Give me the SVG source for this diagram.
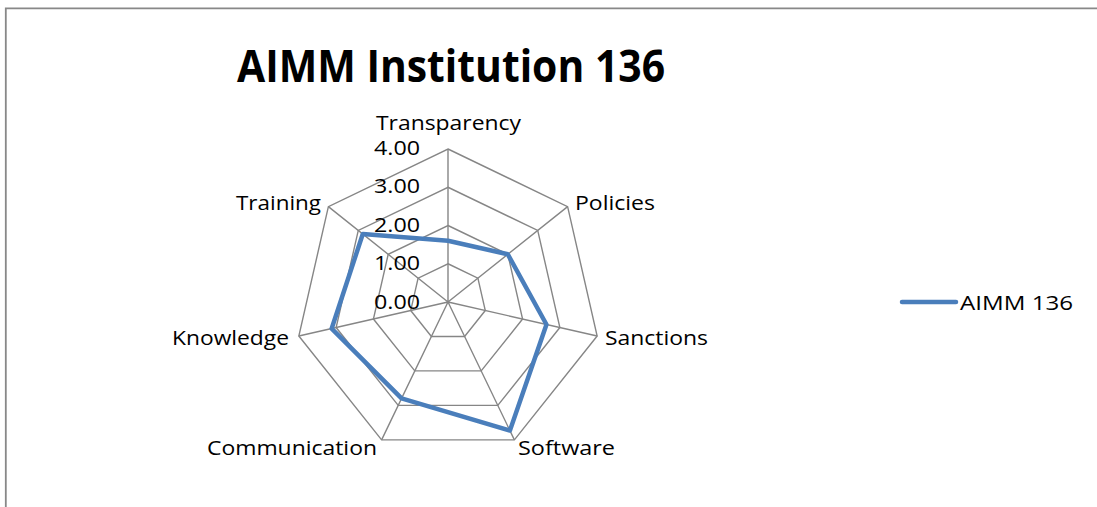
<svg xmlns="http://www.w3.org/2000/svg" width="1097" height="507" viewBox="0 0 1097 507">
<style>
.t{font-family:"Open Sans","Liberation Sans",Arial,sans-serif;font-size:20px;fill:#000}
.grid{fill:none;stroke:#868686;stroke-width:1.4}
.series{fill:none;stroke:#4a7ebb;stroke-width:4.5;stroke-linejoin:round;stroke-linecap:round}
</style>
<rect width="1097" height="507" fill="#fff"/>
<path d="M5.8,507 V8.3 H1097" fill="none" stroke="#888" stroke-width="1.8"/>
<g id="title"><text x="451" y="82" text-anchor="middle" font-family="Open Sans, Liberation Sans, Arial, sans-serif" font-weight="bold" font-size="45" textLength="428" lengthAdjust="spacingAndGlyphs">AIMM Institution 136</text></g>
<g id="connectors">
<g class="grid">
<polygon points="448,149 567.62,206.61 597.16,336.05 514.38,439.85 381.62,439.85 298.84,336.05 328.38,206.61"/>
<polygon points="448,187.25 537.72,230.45 559.87,327.53 497.79,405.39 398.21,405.39 336.13,327.53 358.28,230.45"/>
<polygon points="448,225.5 507.81,254.3 522.58,319.02 481.19,370.92 414.81,370.92 373.42,319.02 388.19,254.3"/>
<polygon points="448,263.75 477.9,278.15 485.29,310.51 464.6,336.46 431.4,336.46 410.71,310.51 418.1,278.15"/>
<path d="M448,302 L448,149 M448,302 L567.62,206.61 M448,302 L597.16,336.05 M448,302 L514.38,439.85 M448,302 L381.62,439.85 M448,302 L298.84,336.05 M448,302 L328.38,206.61"/>
</g>
<polygon class="series" points="448,240.8 507.81,254.3 546.47,324.47 509.91,430.57 401.57,398.4 331.69,328.55 362.78,234.04"/>
</g>
<g id="axis-values">
<text class="t" x="420" y="155" text-anchor="end" textLength="46" lengthAdjust="spacingAndGlyphs">4.00</text>
<text class="t" x="420" y="193.3" text-anchor="end" textLength="46" lengthAdjust="spacingAndGlyphs">3.00</text>
<text class="t" x="420" y="231.7" text-anchor="end" textLength="46" lengthAdjust="spacingAndGlyphs">2.00</text>
<text class="t" x="420" y="270" text-anchor="end" textLength="46" lengthAdjust="spacingAndGlyphs">1.00</text>
<text class="t" x="420" y="308.5" text-anchor="end" textLength="46" lengthAdjust="spacingAndGlyphs">0.00</text>
</g>
<g id="node-transparency"><text class="t" x="376" y="130" textLength="145" lengthAdjust="spacingAndGlyphs">Transparency</text></g>
<g id="node-policies"><text class="t" x="575" y="210" textLength="80" lengthAdjust="spacingAndGlyphs">Policies</text></g>
<g id="node-sanctions"><text class="t" x="605" y="345" textLength="103" lengthAdjust="spacingAndGlyphs">Sanctions</text></g>
<g id="node-software"><text class="t" x="518" y="455" textLength="97" lengthAdjust="spacingAndGlyphs">Software</text></g>
<g id="node-communication"><text class="t" x="207" y="455" textLength="170" lengthAdjust="spacingAndGlyphs">Communication</text></g>
<g id="node-knowledge"><text class="t" x="172" y="345" textLength="117" lengthAdjust="spacingAndGlyphs">Knowledge</text></g>
<g id="node-training"><text class="t" x="236" y="210" textLength="85" lengthAdjust="spacingAndGlyphs">Training</text></g>
<g id="legend">
<line class="series" x1="902" y1="302" x2="956" y2="302"/>
<text class="t" x="960" y="310" textLength="113" lengthAdjust="spacingAndGlyphs">AIMM 136</text>
</g>
</svg>
